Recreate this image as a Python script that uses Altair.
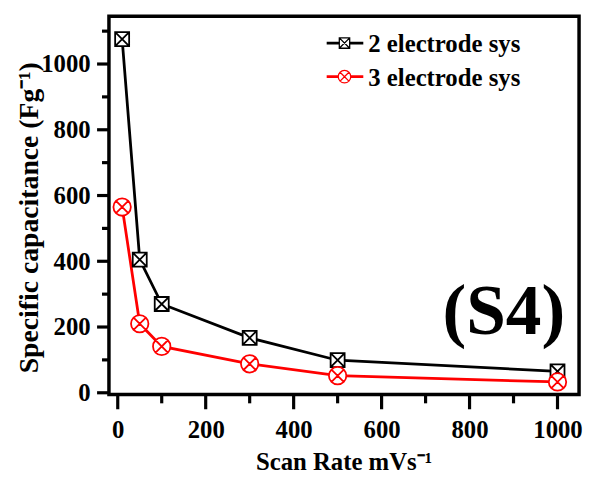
import altair as alt
import pandas as pd

# ---- data ----
scan_rate = [10, 50, 100, 300, 500, 1000]
cap_2e = [1076, 405, 270, 167, 99, 65]
cap_3e = [565, 210, 141, 88, 52, 33]
series_names = ["2 electrode sys", "3 electrode sys"]
series_colors = ["#000000", "#ff0000"]
x_major = [0, 200, 400, 600, 800, 1000]
x_minor = [100, 300, 500, 700, 900]
y_major = [0, 200, 400, 600, 800, 1000]
y_minor = [100, 300, 500, 700, 900, 1100]

SQUARE_X = "M-1,-1L1,-1L1,1L-1,1Z M-1,-1L1,1 M1,-1L-1,1"
CIRCLE_X = ("M1,0A1,1 0 1,1 -1,0A1,1 0 1,1 1,0Z "
            "M-0.7071,-0.7071L0.7071,0.7071 M0.7071,-0.7071L-0.7071,0.7071")
series_shapes = [SQUARE_X, CIRCLE_X]
series_sizes = [200, 310]

FONT = "Liberation Serif"
W, H = 475, 382

rows = []
for name, vals in zip(series_names, [cap_2e, cap_3e]):
    for xv, yv in zip(scan_rate, vals):
        rows.append({"rate": xv, "cap": yv, "series": name})
df = pd.DataFrame(rows)

xs = alt.Scale(domain=[-20, 1049], nice=False, zero=False)
ys = alt.Scale(domain=[-5, 1145], nice=False, zero=False)
col = alt.Scale(domain=series_names, range=series_colors)
shp = alt.Scale(domain=series_names, range=series_shapes)
siz = alt.Scale(domain=series_names, range=series_sizes)

common = dict(domain=False, grid=False, ticks=False, tickSize=0,
              labelFont=FONT, labelFontWeight="bold", labelColor="black",
              titleFont=FONT, titleFontWeight="bold", titleColor="black",
              format="d")

lines = alt.Chart(df).mark_line(strokeWidth=2.8).encode(
    x=alt.X("rate:Q", scale=xs, axis=alt.Axis(
        values=x_major, labelPadding=24, labelFontSize=25,
        title="Scan Rate mVs⁻¹", titleFontSize=25, titleX=237, titleY=76,
        titleAlign="center", titleBaseline="alphabetic", orient="bottom",
        **common)),
    y=alt.Y("cap:Q", scale=ys, axis=alt.Axis(
        values=y_major, labelPadding=19, labelFontSize=25,
        title="Specific capacitance (Fg⁻¹)", titleFontSize=28, titleX=-80,
        titleY=203, titleAngle=270, titleAlign="center",
        titleBaseline="middle", orient="left", **common)),
    color=alt.Color("series:N", scale=col, legend=None),
    detail="series:N",
)

points = alt.Chart(df).mark_point(filled=False, fill="white", fillOpacity=1,
                                  opacity=1, strokeWidth=1.8).encode(
    x=alt.X("rate:Q", scale=xs, axis=None),
    y=alt.Y("cap:Q", scale=ys, axis=None),
    stroke=alt.Stroke("series:N", scale=col, legend=None),
    shape=alt.Shape("series:N", scale=shp, legend=None),
    size=alt.Size("series:N", scale=siz, legend=None),
)

# ---- tick marks drawn as rules through the shared scales ----
def xticks(vals, length):
    return alt.Chart(pd.DataFrame({"v": vals})).mark_rule(
        color="black", strokeWidth=3.2).encode(
        x=alt.X("v:Q", scale=xs, axis=None),
        y=alt.value(H), y2=alt.value(H + length))

def yticks(vals, length):
    return alt.Chart(pd.DataFrame({"v": vals})).mark_rule(
        color="black", strokeWidth=3.2).encode(
        y=alt.Y("v:Q", scale=ys, axis=None),
        x=alt.value(0), x2=alt.value(-length))

tick_layers = [xticks(x_major, 15), xticks(x_minor, 9),
               yticks(y_major, 12), yticks(y_minor, 7)]

# ---- manual legend (line + marker + text), placed in pixels ----
legend_layers = []
row_y = [27, 61]
legend_sizes = [110, 160]
for i, name in enumerate(series_names):
    ldf = pd.DataFrame({"series": [name]})
    base = alt.Chart(ldf)
    legend_layers.append(base.mark_rule(color=series_colors[i], strokeWidth=2.8).encode(
        x=alt.value(220), x2=alt.value(257), y=alt.value(row_y[i])))
    legend_layers.append(base.mark_point(shape=series_shapes[i], filled=False,
                                         fill="white", fillOpacity=1, opacity=1,
                                         stroke=series_colors[i], strokeWidth=1.3,
                                         size=legend_sizes[i]).encode(
        x=alt.value(238), y=alt.value(row_y[i])))
    legend_layers.append(base.mark_text(align="left", baseline="alphabetic",
                                        font=FONT, fontWeight="bold", fontSize=25,
                                        color="black").encode(
        x=alt.value(262), y=alt.value(row_y[i] + 9), text="series:N"))

label = alt.Chart(pd.DataFrame({"t": ["(S4)"]})).mark_text(
    align="center", baseline="alphabetic", font=FONT, fontWeight="bold",
    fontSize=72, color="black").encode(
    x=alt.value(399), y=alt.value(321), text="t:N")

chart = alt.layer(lines, points, *tick_layers, *legend_layers, label).resolve_axis(
    x="independent", y="independent"
).properties(
    width=W, height=H,
    autosize=alt.AutoSizeParams(type="none"),
    padding={"left": 102, "top": 6, "right": 5, "bottom": 80},
    background="white",
).configure_view(
    stroke="black", strokeWidth=3.5
).configure_axis(
    labelFont=FONT, labelFontWeight="bold", labelColor="black",
    titleFont=FONT, titleFontWeight="bold", titleColor="black",
)

chart.save("out.html", embed_options={"renderer": "svg", "actions": False})
